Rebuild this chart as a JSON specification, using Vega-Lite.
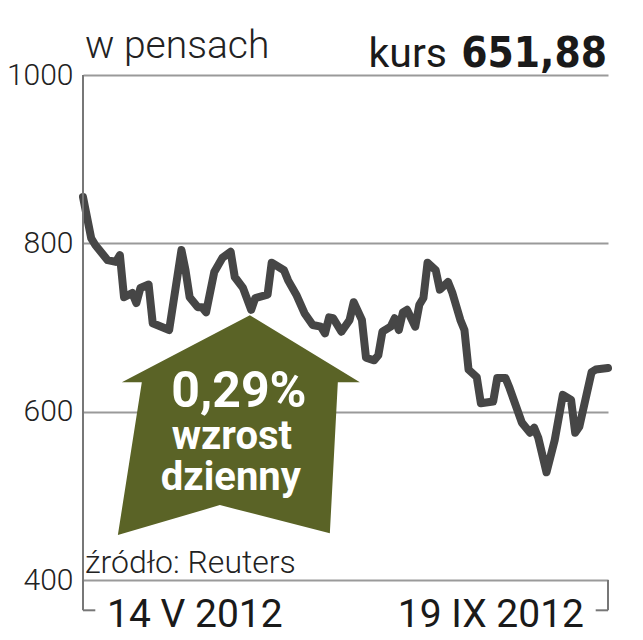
{
  "$schema": "https://vega.github.io/schema/vega-lite/v6.json",
  "width": 525,
  "height": 505,
  "autosize": {"type": "none"},
  "padding": {"left": 83, "top": 75, "right": 35, "bottom": 60},
  "background": "white",
  "config": {"view": {"stroke": null}},
  "data": {"values": [{}]},
  "layer": [
    {
      "data": {"values": [
        {"date": "2012-05-14", "kurs": 855},
        {"date": "2012-05-16", "kurs": 806},
        {"date": "2012-05-17", "kurs": 798},
        {"date": "2012-05-20", "kurs": 780},
        {"date": "2012-05-22", "kurs": 778},
        {"date": "2012-05-23", "kurs": 786},
        {"date": "2012-05-24", "kurs": 736},
        {"date": "2012-05-26", "kurs": 741},
        {"date": "2012-05-27", "kurs": 729},
        {"date": "2012-05-28", "kurs": 747},
        {"date": "2012-05-30", "kurs": 751},
        {"date": "2012-05-31", "kurs": 705},
        {"date": "2012-06-04", "kurs": 697},
        {"date": "2012-06-07", "kurs": 792},
        {"date": "2012-06-08", "kurs": 768},
        {"date": "2012-06-09", "kurs": 736},
        {"date": "2012-06-11", "kurs": 724},
        {"date": "2012-06-12", "kurs": 724},
        {"date": "2012-06-13", "kurs": 718},
        {"date": "2012-06-15", "kurs": 766},
        {"date": "2012-06-17", "kurs": 783},
        {"date": "2012-06-19", "kurs": 790},
        {"date": "2012-06-20", "kurs": 760},
        {"date": "2012-06-22", "kurs": 747},
        {"date": "2012-06-24", "kurs": 721},
        {"date": "2012-06-25", "kurs": 735},
        {"date": "2012-06-28", "kurs": 739},
        {"date": "2012-06-29", "kurs": 777},
        {"date": "2012-07-02", "kurs": 768},
        {"date": "2012-07-03", "kurs": 756},
        {"date": "2012-07-05", "kurs": 739},
        {"date": "2012-07-07", "kurs": 717},
        {"date": "2012-07-09", "kurs": 703},
        {"date": "2012-07-11", "kurs": 701},
        {"date": "2012-07-12", "kurs": 693},
        {"date": "2012-07-13", "kurs": 712},
        {"date": "2012-07-14", "kurs": 711},
        {"date": "2012-07-16", "kurs": 695},
        {"date": "2012-07-18", "kurs": 709},
        {"date": "2012-07-19", "kurs": 730},
        {"date": "2012-07-21", "kurs": 709},
        {"date": "2012-07-22", "kurs": 664},
        {"date": "2012-07-24", "kurs": 661},
        {"date": "2012-07-25", "kurs": 667},
        {"date": "2012-07-26", "kurs": 695},
        {"date": "2012-07-28", "kurs": 701},
        {"date": "2012-07-29", "kurs": 711},
        {"date": "2012-07-30", "kurs": 697},
        {"date": "2012-07-31", "kurs": 718},
        {"date": "2012-08-01", "kurs": 721},
        {"date": "2012-08-03", "kurs": 701},
        {"date": "2012-08-04", "kurs": 727},
        {"date": "2012-08-05", "kurs": 735},
        {"date": "2012-08-06", "kurs": 777},
        {"date": "2012-08-08", "kurs": 768},
        {"date": "2012-08-09", "kurs": 745},
        {"date": "2012-08-11", "kurs": 754},
        {"date": "2012-08-12", "kurs": 742},
        {"date": "2012-08-14", "kurs": 709},
        {"date": "2012-08-15", "kurs": 697},
        {"date": "2012-08-16", "kurs": 650},
        {"date": "2012-08-18", "kurs": 641},
        {"date": "2012-08-19", "kurs": 610},
        {"date": "2012-08-22", "kurs": 612},
        {"date": "2012-08-23", "kurs": 640},
        {"date": "2012-08-25", "kurs": 640},
        {"date": "2012-08-26", "kurs": 628},
        {"date": "2012-08-29", "kurs": 587},
        {"date": "2012-08-31", "kurs": 575},
        {"date": "2012-09-01", "kurs": 581},
        {"date": "2012-09-02", "kurs": 569},
        {"date": "2012-09-04", "kurs": 528},
        {"date": "2012-09-06", "kurs": 566},
        {"date": "2012-09-08", "kurs": 620},
        {"date": "2012-09-10", "kurs": 614},
        {"date": "2012-09-11", "kurs": 575},
        {"date": "2012-09-12", "kurs": 582},
        {"date": "2012-09-15", "kurs": 647},
        {"date": "2012-09-16", "kurs": 650},
        {"date": "2012-09-19", "kurs": 651.88}
      ]},
      "mark": {"type": "line", "color": "#464646", "strokeWidth": 8, "strokeCap": "round", "strokeJoin": "round"},
      "encoding": {
        "x": {"field": "date", "type": "temporal", "axis": null,
              "scale": {"type": "utc", "nice": false, "domain": [{"year": 2012, "month": 5, "date": 14, "utc": true}, {"year": 2012, "month": 9, "date": 19, "utc": true}]}},
        "y": {"field": "kurs", "type": "quantitative",
              "scale": {"domain": [400, 1000], "nice": false, "zero": false},
              "axis": {"values": [400, 600, 800, 1000], "format": "d", "title": null, "domain": false, "ticks": false,
                       "labelFont": "Roboto", "labelFontWeight": 300, "labelFontSize": 30, "labelColor": "#222222",
                       "labelPadding": 10, "grid": true, "gridColor": "#9a9a9a", "gridWidth": 2, "gridOpacity": 1}}
      }
    },
    {
      "mark": {"type": "rule", "color": "#777777", "strokeWidth": 2, "clip": false},
      "encoding": {
        "x": {"datum": {"year": 2012, "month": 5, "date": 14, "utc": true}, "type": "temporal"},
        "y": {"datum": 1000, "type": "quantitative"},
        "y2": {"datum": 364}
      }
    },
    {
      "mark": {"type": "rule", "color": "#777777", "strokeWidth": 2, "clip": false},
      "encoding": {
        "x": {"datum": {"year": 2012, "month": 5, "date": 14, "utc": true}, "type": "temporal"},
        "x2": {"datum": {"year": 2012, "month": 5, "date": 17, "utc": true}},
        "y": {"datum": 364, "type": "quantitative"}
      }
    },
    {
      "mark": {"type": "rule", "color": "#777777", "strokeWidth": 2, "clip": false},
      "encoding": {
        "x": {"datum": {"year": 2012, "month": 9, "date": 19, "utc": true}, "type": "temporal"},
        "y": {"datum": 400, "type": "quantitative"},
        "y2": {"datum": 364}
      }
    },
    {
      "mark": {"type": "rule", "color": "#777777", "strokeWidth": 2, "clip": false},
      "encoding": {
        "x": {"datum": {"year": 2012, "month": 9, "date": 16, "utc": true}, "type": "temporal"},
        "x2": {"datum": {"year": 2012, "month": 9, "date": 19, "utc": true}},
        "y": {"datum": 364, "type": "quantitative"}
      }
    },
    {
      "mark": {"type": "point", "filled": true, "color": "#5a6326", "opacity": 1, "strokeWidth": 0, "size": 58564,
               "shape": "M 0.091 -0.909 L 1 -0.355 L 0.818 -0.355 L 0.752 0.893 L -0.157 0.661 L -1 0.909 L -0.802 -0.355 L -0.967 -0.355 Z"},
      "encoding": {
        "x": {"datum": {"year": 2012, "month": 6, "date": 21, "utc": true}, "type": "temporal"},
        "y": {"datum": 584, "type": "quantitative"}
      }
    },
    {
      "mark": {"type": "text", "text": "0,29%", "font": "Roboto", "fontWeight": "bold", "fontSize": 50, "color": "white", "align": "center", "baseline": "alphabetic", "dx": 0},
      "encoding": {
        "x": {"datum": {"year": 2012, "month": 6, "date": 21, "utc": true}, "type": "temporal"},
        "y": {"datum": 606, "type": "quantitative"}
      }
    },
    {
      "mark": {"type": "text", "text": "wzrost", "font": "Roboto", "fontWeight": "bold", "fontSize": 40, "color": "white", "align": "center", "baseline": "alphabetic", "dx": -7},
      "encoding": {
        "x": {"datum": {"year": 2012, "month": 6, "date": 21, "utc": true}, "type": "temporal"},
        "y": {"datum": 555.7, "type": "quantitative"}
      }
    },
    {
      "mark": {"type": "text", "text": "dzienny", "font": "Roboto", "fontWeight": "bold", "fontSize": 40, "color": "white", "align": "center", "baseline": "alphabetic", "dx": -8},
      "encoding": {
        "x": {"datum": {"year": 2012, "month": 6, "date": 21, "utc": true}, "type": "temporal"},
        "y": {"datum": 507, "type": "quantitative"}
      }
    },
    {
      "mark": {"type": "text", "text": "w pensach", "font": "Roboto", "fontWeight": 300, "fontSize": 39, "color": "#222222", "align": "left", "baseline": "alphabetic", "dx": 2, "clip": false},
      "encoding": {
        "x": {"datum": {"year": 2012, "month": 5, "date": 14, "utc": true}, "type": "temporal"},
        "y": {"datum": 1020, "type": "quantitative"}
      }
    },
    {
      "mark": {"type": "text", "text": "kurs", "font": "Roboto", "fontWeight": "normal", "fontSize": 41, "color": "#1a1a1a", "align": "right", "baseline": "alphabetic", "dx": -161},
      "encoding": {
        "x": {"datum": {"year": 2012, "month": 9, "date": 19, "utc": true}, "type": "temporal"},
        "y": {"datum": 1009.5, "type": "quantitative"}
      }
    },
    {
      "mark": {"type": "text", "text": "651,88", "font": "DejaVu Sans Condensed, Roboto", "fontWeight": "bold", "fontSize": 42, "color": "#1a1a1a", "align": "right", "baseline": "alphabetic", "dx": -1},
      "encoding": {
        "x": {"datum": {"year": 2012, "month": 9, "date": 19, "utc": true}, "type": "temporal"},
        "y": {"datum": 1009.5, "type": "quantitative"}
      }
    },
    {
      "mark": {"type": "text", "text": "źródło: Reuters", "font": "Roboto", "fontWeight": 300, "fontSize": 32, "color": "#222222", "align": "left", "baseline": "alphabetic", "dx": 2},
      "encoding": {
        "x": {"datum": {"year": 2012, "month": 5, "date": 14, "utc": true}, "type": "temporal"},
        "y": {"datum": 408, "type": "quantitative"}
      }
    },
    {
      "mark": {"type": "text", "text": "14 V 2012", "font": "Roboto", "fontWeight": "normal", "fontSize": 39, "color": "#1a1a1a", "align": "left", "baseline": "alphabetic", "dx": 24},
      "encoding": {
        "x": {"datum": {"year": 2012, "month": 5, "date": 14, "utc": true}, "type": "temporal"},
        "y": {"datum": 344, "type": "quantitative"}
      }
    },
    {
      "mark": {"type": "text", "text": "19 IX 2012", "font": "Roboto", "fontWeight": "normal", "fontSize": 39, "color": "#1a1a1a", "align": "right", "baseline": "alphabetic", "dx": -24},
      "encoding": {
        "x": {"datum": {"year": 2012, "month": 9, "date": 19, "utc": true}, "type": "temporal"},
        "y": {"datum": 344, "type": "quantitative"}
      }
    }
  ]
}
